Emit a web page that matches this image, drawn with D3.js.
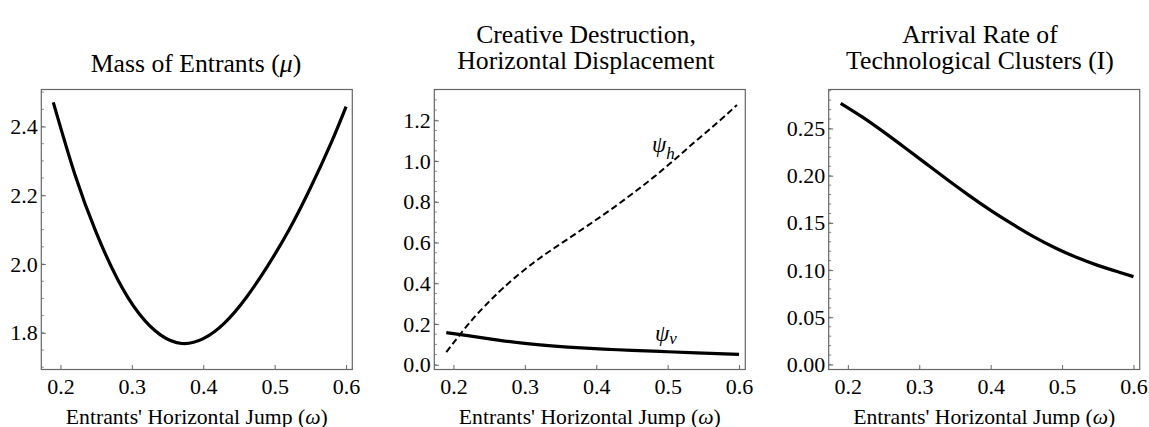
<!DOCTYPE html>
<html>
<head>
<meta charset="utf-8">
<script src="https://cdn.jsdelivr.net/npm/d3@7"></script>
<style>
  body { margin: 0; background: #fff; }
  svg { display: block; }
  svg text { font-family: "Liberation Serif", "DejaVu Serif", "Noto Serif", serif; }
</style>
</head>
<body>
<svg id="chart" width="1149" height="427"></svg>
<script>
// values, omega on the x axis
var xTicks = [0.2, 0.3, 0.4, 0.5, 0.6];

var omegaMu = [0.19, 0.22, 0.25, 0.28, 0.31, 0.34, 0.37, 0.40, 0.43, 0.46, 0.49, 0.52, 0.55, 0.58, 0.60];
var mu      = [2.470, 2.262, 2.092, 1.956, 1.856, 1.794, 1.769, 1.783, 1.829, 1.902, 1.994, 2.099, 2.221, 2.357, 2.458];
var muTicks = [1.8, 2.0, 2.2, 2.4];

var omegaPsiH = [0.19, 0.21, 0.23, 0.25, 0.27, 0.30, 0.33, 0.36, 0.39, 0.42, 0.45, 0.48, 0.51, 0.54, 0.57, 0.597];
var psiH      = [0.062, 0.152, 0.236, 0.310, 0.378, 0.468, 0.546, 0.617, 0.688, 0.761, 0.838, 0.920, 1.008, 1.100, 1.190, 1.275];
var omegaPsiV = [0.19, 0.22, 0.265, 0.31, 0.36, 0.41, 0.45, 0.50, 0.55, 0.60];
var psiV      = [0.158, 0.143, 0.120, 0.101, 0.087, 0.077, 0.071, 0.064, 0.057, 0.051];
var psiTicks  = [0.0, 0.2, 0.4, 0.6, 0.8, 1.0, 1.2];

var omegaI  = [0.19, 0.22, 0.25, 0.28, 0.31, 0.34, 0.37, 0.40, 0.43, 0.46, 0.49, 0.52, 0.55, 0.58, 0.60];
var arrival = [0.2767, 0.2623, 0.2464, 0.2296, 0.2125, 0.1954, 0.1789, 0.1633, 0.1489, 0.1355, 0.1237, 0.1135, 0.1050, 0.0978, 0.0931];
var arrivalTicks = [0.00, 0.05, 0.10, 0.15, 0.20, 0.25];

var svg = d3.select("#chart");
var W = 311, H = 280, TOP = 89.5;
var frameCol = "#666";

function zip(xs, ys) {
    return xs.map(function(x, i) { return [x, ys[i]]; });
}

function drawPanel(opt) {
    var g = svg.append("g").attr("transform", "translate(" + opt.left + "," + TOP + ")");
    var x = d3.scaleLinear().domain([0.1732, 0.6087]).range([0, W]);
    var y = d3.scaleLinear().domain(opt.yDomain).range([H, 0]);

    // minor y ticks
    var minor = d3.range(opt.minorStart, opt.yDomain[1], opt.minorStep)
        .filter(function(v) { return v >= opt.yDomain[0]; });
    g.selectAll(".minor").data(minor).enter().append("line")
        .attr("x1", 0).attr("x2", 2.5)
        .attr("y1", function(d) { return y(d); }).attr("y2", function(d) { return y(d); })
        .attr("stroke", frameCol).attr("stroke-width", 0.8);

    var yAxis = d3.axisLeft(y).tickValues(opt.yTicks).tickSize(-4.5).tickPadding(3.5)
        .tickFormat(d3.format(opt.yFormat));
    var ya = g.append("g").call(yAxis);
    var xAxis = d3.axisBottom(x).tickValues(xTicks).tickSize(-4.5).tickPadding(9)
        .tickFormat(d3.format(".1f"));
    var xa = g.append("g").attr("transform", "translate(0," + H + ")").call(xAxis);
    [ya, xa].forEach(function(a) {
        a.attr("font-family", null);
        a.select(".domain").remove();
        a.selectAll("line").attr("stroke", frameCol).attr("stroke-width", 1);
        a.selectAll("text").attr("fill", "#000").style("font-size", "22px");
    });
    xa.selectAll("text").attr("dy", "0.71em");

    g.append("rect").attr("width", W).attr("height", H)
        .attr("fill", "none").attr("stroke", frameCol).attr("stroke-width", 1.2);

    var line = d3.line()
        .x(function(d) { return x(d[0]); })
        .y(function(d) { return y(d[1]); })
        .curve(d3.curveNatural);
    opt.series.forEach(function(s) {
        g.append("path").datum(s.data)
            .attr("d", line).attr("fill", "none").attr("stroke", "#000")
            .attr("stroke-width", s.width)
            .attr("stroke-dasharray", s.dash || null);
    });

    // title lines
    opt.title.forEach(function(t, i) {
        var tx = svg.append("text").attr("x", opt.titleX).attr("y", opt.titleY + i * 26.3)
            .attr("text-anchor", "middle").style("font-size", "25.7px");
        t.forEach(function(part) {
            tx.append("tspan").text(part[0]).style("font-style", part[1] ? "italic" : null);
        });
    });

    var lab = svg.append("text").attr("x", opt.left + W / 2).attr("y", 423.5)
        .attr("text-anchor", "middle").style("font-size", "21.7px");
    lab.append("tspan").text("Entrants' Horizontal Jump (");
    lab.append("tspan").text("\u03c9").style("font-style", "italic");
    lab.append("tspan").text(")");
    return g;
}

drawPanel({
    left: 41.3, yDomain: [1.6933, 2.5076], yTicks: muTicks, yFormat: ".1f",
    minorStart: 1.7, minorStep: 0.05,
    title: [[["Mass of Entrants (", false], ["\u03bc", true], [")", false]]],
    titleX: 196, titleY: 71.5,
    series: [{ data: zip(omegaMu, mu), width: 3.2 }]
});

drawPanel({
    left: 434.3, yDomain: [-0.0232, 1.3512], yTicks: psiTicks, yFormat: ".1f",
    minorStart: 0, minorStep: 0.05,
    title: [[["Creative Destruction,", false]], [["Horizontal Displacement", false]]],
    titleX: 586, titleY: 42.7,
    series: [
        { data: zip(omegaPsiH, psiH), width: 2, dash: "6.5,3.5" },
        { data: zip(omegaPsiV, psiV), width: 3.2 }
    ]
});

drawPanel({
    left: 828.7, yDomain: [-0.0053, 0.2913], yTicks: arrivalTicks, yFormat: ".2f",
    minorStart: 0, minorStep: 0.01,
    title: [[["Arrival Rate of", false]], [["Technological Clusters (I)", false]]],
    titleX: 980, titleY: 42.7,
    series: [{ data: zip(omegaI, arrival), width: 3.2 }]
});

// series labels in the middle panel
function psiLabel(px, py, sub, shift) {
    var t = svg.append("text").attr("x", px).attr("y", py).style("font-size", "23px")
        .style("font-style", "italic");
    t.append("tspan").text("\u03c8");
    t.append("tspan").text(sub).attr("dy", shift).style("font-size", "17px");
}
psiLabel(652, 152, "h", 7);
psiLabel(655, 340.5, "v", 3);
</script>
</body>
</html>
